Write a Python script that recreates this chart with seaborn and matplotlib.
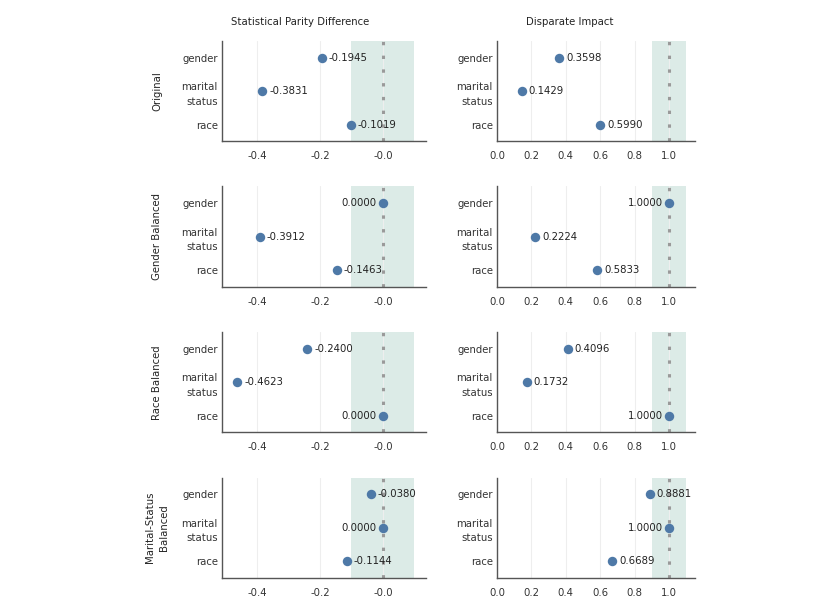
import pandas as pd
import seaborn as sns
import matplotlib.pyplot as plt

attributes = ["gender", "marital\nstatus", "race"]
scenarios = ["Original", "Gender Balanced", "Race Balanced", "Marital-Status\nBalanced"]
spd_values = [
    [-0.1945, -0.3831, -0.1019],
    [0.0000, -0.3912, -0.1463],
    [-0.2400, -0.4623, 0.0000],
    [-0.0380, 0.0000, -0.1144],
]
di_values = [
    [0.3598, 0.1429, 0.5990],
    [1.0000, 0.2224, 0.5833],
    [0.4096, 0.1732, 1.0000],
    [0.8881, 1.0000, 0.6689],
]
metrics = ["Statistical Parity Difference", "Disparate Impact"]
ideal = [0.0, 1.0]
x_ticks = [[-0.4, -0.2, 0.0], [0.0, 0.2, 0.4, 0.6, 0.8, 1.0]]
x_ticklabels = [["-0.4", "-0.2", "-0.0"], ["0.0", "0.2", "0.4", "0.6", "0.8", "1.0"]]

rows = []
for i, sc in enumerate(scenarios):
    for j, att in enumerate(attributes):
        rows.append({"scenario": sc, "attribute": att, "metric": metrics[0], "value": spd_values[i][j]})
        rows.append({"scenario": sc, "attribute": att, "metric": metrics[1], "value": di_values[i][j]})
df = pd.DataFrame(rows)

sns.set_style("white")
plt.rcParams["font.family"] = ["DejaVu Sans"]
FS = 7.3
dot_color = "#4e79a7"
shade = "#dcebe7"

fig, axes = plt.subplots(4, 2, figsize=(8.3, 6.02), dpi=100,
                         gridspec_kw=dict(left=222 / 830, right=695 / 830, top=0.932,
                                          bottom=0.040, wspace=0.353, hspace=0.45,
                                          width_ratios=[204, 198]))

xlims = [(-0.511, 0.137), (0.0, 1.15)]

for i, sc in enumerate(scenarios):
    for k, metric in enumerate(metrics):
        ax = axes[i, k]
        sub = df[(df.scenario == sc) & (df.metric == metric)]
        ax.axvspan(ideal[k] - 0.1, ideal[k] + 0.1, color=shade, zorder=0, lw=0)
        for t in x_ticks[k]:
            ax.axvline(t, color="#eeeeee", lw=0.8, zorder=0.5)
        ax.axvline(ideal[k], color="#9a9a9a", lw=2.2, linestyle=(0, (1.1, 3.4)), zorder=1)
        sns.stripplot(data=sub, x="value", y="attribute", order=attributes, jitter=False,
                      color=dot_color, size=6.8, ax=ax, zorder=3, orient="h")
        for j, att in enumerate(attributes):
            v = sub[sub.attribute == att]["value"].iloc[0]
            if abs(v - ideal[k]) < 1e-9:
                ax.annotate(f"{v:.4f}", (v, j), xytext=(-4.5, 0), textcoords="offset points",
                            ha="right", va="center", fontsize=FS, color="#222222", zorder=4)
            else:
                ax.annotate(f"{v:.4f}", (v, j), xytext=(5, 0), textcoords="offset points",
                            ha="left", va="center", fontsize=FS, color="#222222", zorder=4)
        ax.set_xlim(*xlims[k])
        ax.set_ylim(2.5, -0.5)
        ax.set_xticks(x_ticks[k])
        ax.set_xticklabels(x_ticklabels[k])
        ax.set_xlabel("")
        ax.set_ylabel("")
        ax.tick_params(axis="both", length=0, labelsize=FS, colors="#333333")
        ax.tick_params(axis="x", pad=7)
        ax.tick_params(axis="y", pad=3)
        for lbl in ax.get_yticklabels():
            lbl.set_linespacing(1.55)
        for s in ["top", "right"]:
            ax.spines[s].set_visible(False)
        for s in ["left", "bottom"]:
            ax.spines[s].set_color("#555555")
            ax.spines[s].set_linewidth(1.0)
    bb = axes[i, 0].get_position()
    fig.text(157 / 830, (bb.y0 + bb.y1) / 2, sc, rotation=90, ha="center", va="center",
             fontsize=FS, color="#222222", linespacing=1.5)

fig.text(300 / 830, 1 - 22 / 602, metrics[0], ha="center", va="center", fontsize=FS, color="#222222")
fig.text(570 / 830, 1 - 22 / 602, metrics[1], ha="center", va="center", fontsize=FS, color="#222222")

plt.savefig("out.png", dpi=100)
plt.close()
